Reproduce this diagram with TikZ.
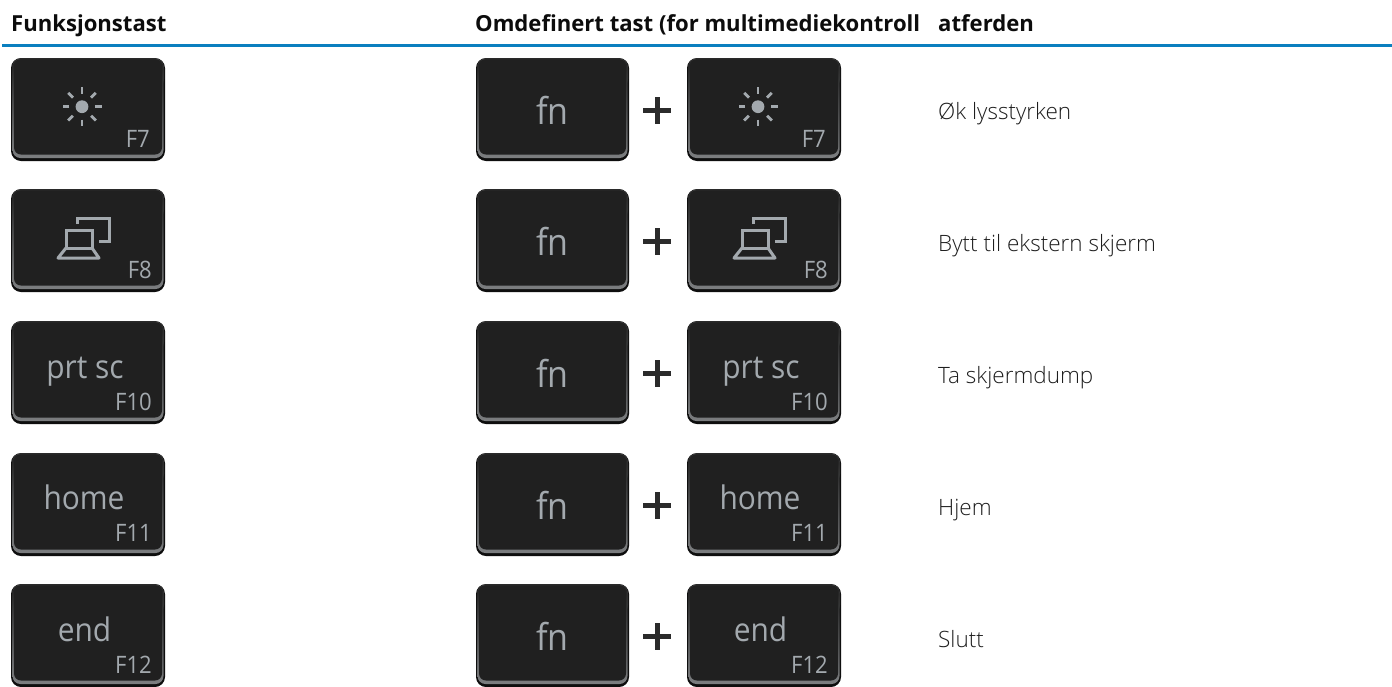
\documentclass[tikz,border=0pt]{standalone}
\usepackage{fontspec}
\setmainfont{Open Sans}
\newfontfamily\lightfont{Open Sans Light}
\newfontfamily\keyfont[FakeStretch=0.92]{Open Sans}
\usetikzlibrary{calc}
\definecolor{keyface}{HTML}{202020}
\definecolor{keyedge}{HTML}{0E0E0E}
\definecolor{keytop}{HTML}{3A3A3A}
\definecolor{keybevel}{HTML}{7C7E80}
\definecolor{keytext}{HTML}{A3A9AE}
\definecolor{rulecol}{HTML}{0A7FBF}
\definecolor{headcol}{HTML}{0C0C0C}
\definecolor{bodycol}{HTML}{1E1E1E}
\definecolor{pluscol}{HTML}{2B2B2B}
\tikzset{
  headtext/.style={anchor=base west,inner sep=0pt,text=headcol,font=\fontsize{22.1}{26}\selectfont\bfseries},
  bodytext/.style={anchor=base west,inner sep=0pt,text=bodycol,font=\fontsize{22.5}{26}\lightfont},
  fnum/.style={anchor=base east,inner sep=0pt,text=keytext,font=\fontsize{24}{26}\keyfont},
  bigkey/.style={anchor=base,inner sep=0pt,text=keytext,font=\fontsize{32.5}{36}\keyfont},
  fnkey/.style={anchor=base,inner sep=0pt,text=keytext,font=\fontsize{37}{40}\keyfont},
  icon/.style={draw=keytext,line width=3pt,line join=miter}
}
% \keycap{x}{y}{w}: key outline with top-left corner at x,y
\newcommand{\keycap}[3]{%
  \fill[keyedge,rounded corners=10pt] (#1,#2) rectangle ++(#3,103);
  \fill[keytop,rounded corners=9pt] ($(#1,#2)+(1,0.3)$) rectangle ($(#1,#2)+(#3-1,30)$);
  \shade[top color=keyface,bottom color=keybevel,rounded corners=8pt] ($(#1,#2)+(1.5,1.3)$) rectangle ($(#1,#2)+(#3-1.5,100)$);
  \fill[keyface,rounded corners=7pt] ($(#1,#2)+(3,1.6)$) rectangle ($(#1,#2)+(#3-3,96.5)$);
}
\newcommand{\sunicon}[2]{%
  \fill[keytext] (#1,#2) circle (6.4);
  \foreach \a in {0,45,...,315}{\draw[icon,line width=2.8pt] ($(#1,#2)+(\a:12.8)$) -- ($(#1,#2)+(\a:19.5)$);}
}
\newcommand{\screenicon}[2]{% #1,#2 = key-centre reference point
  \draw[icon] ($(#1,#2)+(-16,-10)$) rectangle ($(#1,#2)+(10,8)$);
  \draw[icon,line join=round] ($(#1,#2)+(-16,8)$) -- ($(#1,#2)+(-24,18)$) -- ($(#1,#2)+(17,18)$) -- ($(#1,#2)+(10,8)$);
  \draw[icon] ($(#1,#2)+(-5,-16)$) -- ($(#1,#2)+(-5,-22)$) -- ($(#1,#2)+(27,-22)$) -- ($(#1,#2)+(27,1)$) -- ($(#1,#2)+(17,1)$);
}
\begin{document}
\begin{tikzpicture}[x=1pt,y=-1pt]
\useasboundingbox (0,0) rectangle (1392,686);
\fill[white] (0,0) rectangle (1392,686);
\node[headtext] (h1) at (11,31) {Funksjonstast};
\node[headtext] (h2) at (475,31) {Omdefinert tast (for multimediekontroll};
\node[headtext] (h3) at (938,31) {atferden};
\fill[rulecol] (2,44.3) rectangle (1392,46.7);

% column 1
\keycap{11}{58}{154}
\sunicon{82}{106.7}
\node[fnum] (a1) at (150,147) {F7};
\keycap{11}{189}{154}
\screenicon{82}{240}
\node[fnum] (a2) at (152,278) {F8};
\keycap{11}{321}{154}
\node[bigkey] (a3t) at (85,378) {prt sc};
\node[fnum] (a3) at (152,410) {F10};
\keycap{11}{453}{154}
\node[bigkey] (a4t) at (84,509) {home};
\node[fnum] (a4) at (152,541) {F11};
\keycap{11}{584}{154}
\node[bigkey] (a5t) at (84.5,641) {end};
\node[fnum] (a5) at (152,673) {F12};

% fn keys
\foreach \y/\n in {58/1,189/2,321/3,453/4,584/5}{
  \keycap{476}{\y}{153}
  \node[fnkey] (fn\n) at (552.5,\y+66) {fn};
  \fill[pluscol] (643,\y+50) rectangle (671,\y+54.5);
  \fill[pluscol] (654.5,\y+39) rectangle (659.5,\y+66);
}

% column 3
\keycap{687}{58}{154}
\sunicon{758}{106.7}
\node[fnum] (b1) at (826,147) {F7};
\keycap{687}{189}{154}
\screenicon{758}{240}
\node[fnum] (b2) at (828,278) {F8};
\keycap{687}{321}{154}
\node[bigkey] (b3t) at (761,378) {prt sc};
\node[fnum] (b3) at (828,410) {F10};
\keycap{687}{453}{154}
\node[bigkey] (b4t) at (760,509) {home};
\node[fnum] (b4) at (828,541) {F11};
\keycap{687}{584}{154}
\node[bigkey] (b5t) at (760.5,641) {end};
\node[fnum] (b5) at (828,673) {F12};

% actions
\node[bodytext] (t1) at (938,119.5) {Øk lysstyrken};
\node[bodytext] (t2) at (938,251.5) {Bytt til ekstern skjerm};
\node[bodytext] (t3) at (938,383.5) {Ta skjermdump};
\node[bodytext] (t4) at (938,515) {Hjem};
\node[bodytext] (t5) at (938,647) {Slutt};
\end{tikzpicture}
\end{document}
